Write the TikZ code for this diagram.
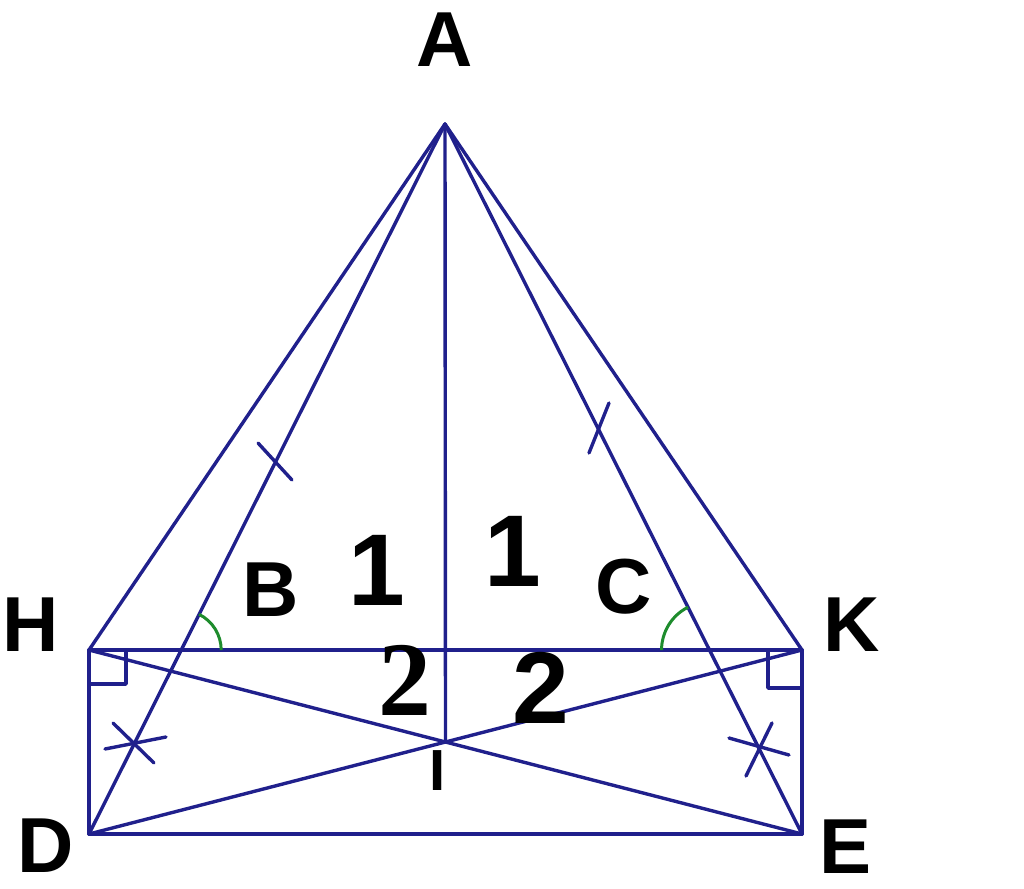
\documentclass[tikz,border=0pt]{standalone}
\usepackage{fontspec}
\setmainfont{Liberation Sans}
\newfontfamily\serifdigit{Liberation Serif}
\usetikzlibrary{calc}
\definecolor{navy}{RGB}{32,32,140}
\definecolor{anglegreen}{RGB}{30,140,45}
\begin{document}
\begin{tikzpicture}[x=0.5pt,y=-0.5pt,
  geo/.style={draw=navy, line width=1.7pt, line cap=round, line join=round},
  angmark/.style={draw=anglegreen, line width=1.5pt},
  ptlabel/.style={font=\fontsize{39}{39}\selectfont\bfseries, inner sep=0pt},
  numlabel/.style={font=\fontsize{51}{51}\selectfont\bfseries, inner sep=0pt},
  serlabel/.style={font=\serifdigit\fontsize{53}{53}\selectfont\bfseries, inner sep=0pt},
  smlabel/.style={font=\fontsize{29}{29}\selectfont\bfseries, inner sep=0pt}]
\useasboundingbox (0,0) rectangle (1024,889);
% points
\coordinate (A) at (445,124);
\coordinate (H) at (89,650);
\coordinate (K) at (802,650);
\coordinate (D) at (89,834);
\coordinate (E) at (802,834);
\coordinate (I) at (445.5,742);
\coordinate (B) at ($(A)!0.741!(D)$);
\coordinate (C) at ($(A)!0.741!(E)$);
% main lines
\draw[geo] (A) -- (H);
\draw[geo] (A) -- (K);
\draw[geo] (A) -- (D);
\draw[geo] (A) -- (E);
\draw[geo] (A) -- (I);
\draw[geo] (H) -- (K);
\draw[geo] (H) -- (D);
\draw[geo] (K) -- (E);
\draw[geo] (D) -- (E);
\draw[geo] (H) -- (E);
\draw[geo] (K) -- (D);
% right angles
\draw[geo] (H) ++(37,0) -- ++(0,34) -- ++(-37,0);
\draw[geo] (K) ++(-34,0) -- ++(0,38) -- ++(34,0);
% angle arcs
\draw[angmark] (B) ++(40,0) arc[start angle=0, end angle=-63.4, radius=40];
\draw[angmark] (C) ++(-48,0) arc[start angle=180, end angle=243.4, radius=48];
% single ticks
\draw[geo] (258,443) -- (292,480);
\draw[geo] (609,403) -- (589,453);
% double ticks (crosses)
\draw[geo] (105,749) -- (166,737);
\draw[geo] (113,723) -- (154,763);
\draw[geo] (729,738) -- (789,755);
\draw[geo] (772,723) -- (746,776);
% labels
\node[ptlabel] (lA) at (445,40) {A};
\node[ptlabel] (lH) at (31,625) {H};
\node[ptlabel] (lK) at (852,625) {K};
\node[ptlabel] (lD) at (46,846) {D};
\node[ptlabel] (lE) at (846,847) {E};
\node[ptlabel] (lB) at (271,590) {B};
\node[ptlabel] (lC) at (624,587) {C};
\node[smlabel] (lI) at (438,771) {I};
\node[numlabel] (n1l) at (377,570) {1};
\node[numlabel] (n1r) at (513,551) {1};
\node[serlabel] (n2l) at (405,680) {2};
\node[numlabel] (n2r) at (541,688) {2};
\end{tikzpicture}
\end{document}
